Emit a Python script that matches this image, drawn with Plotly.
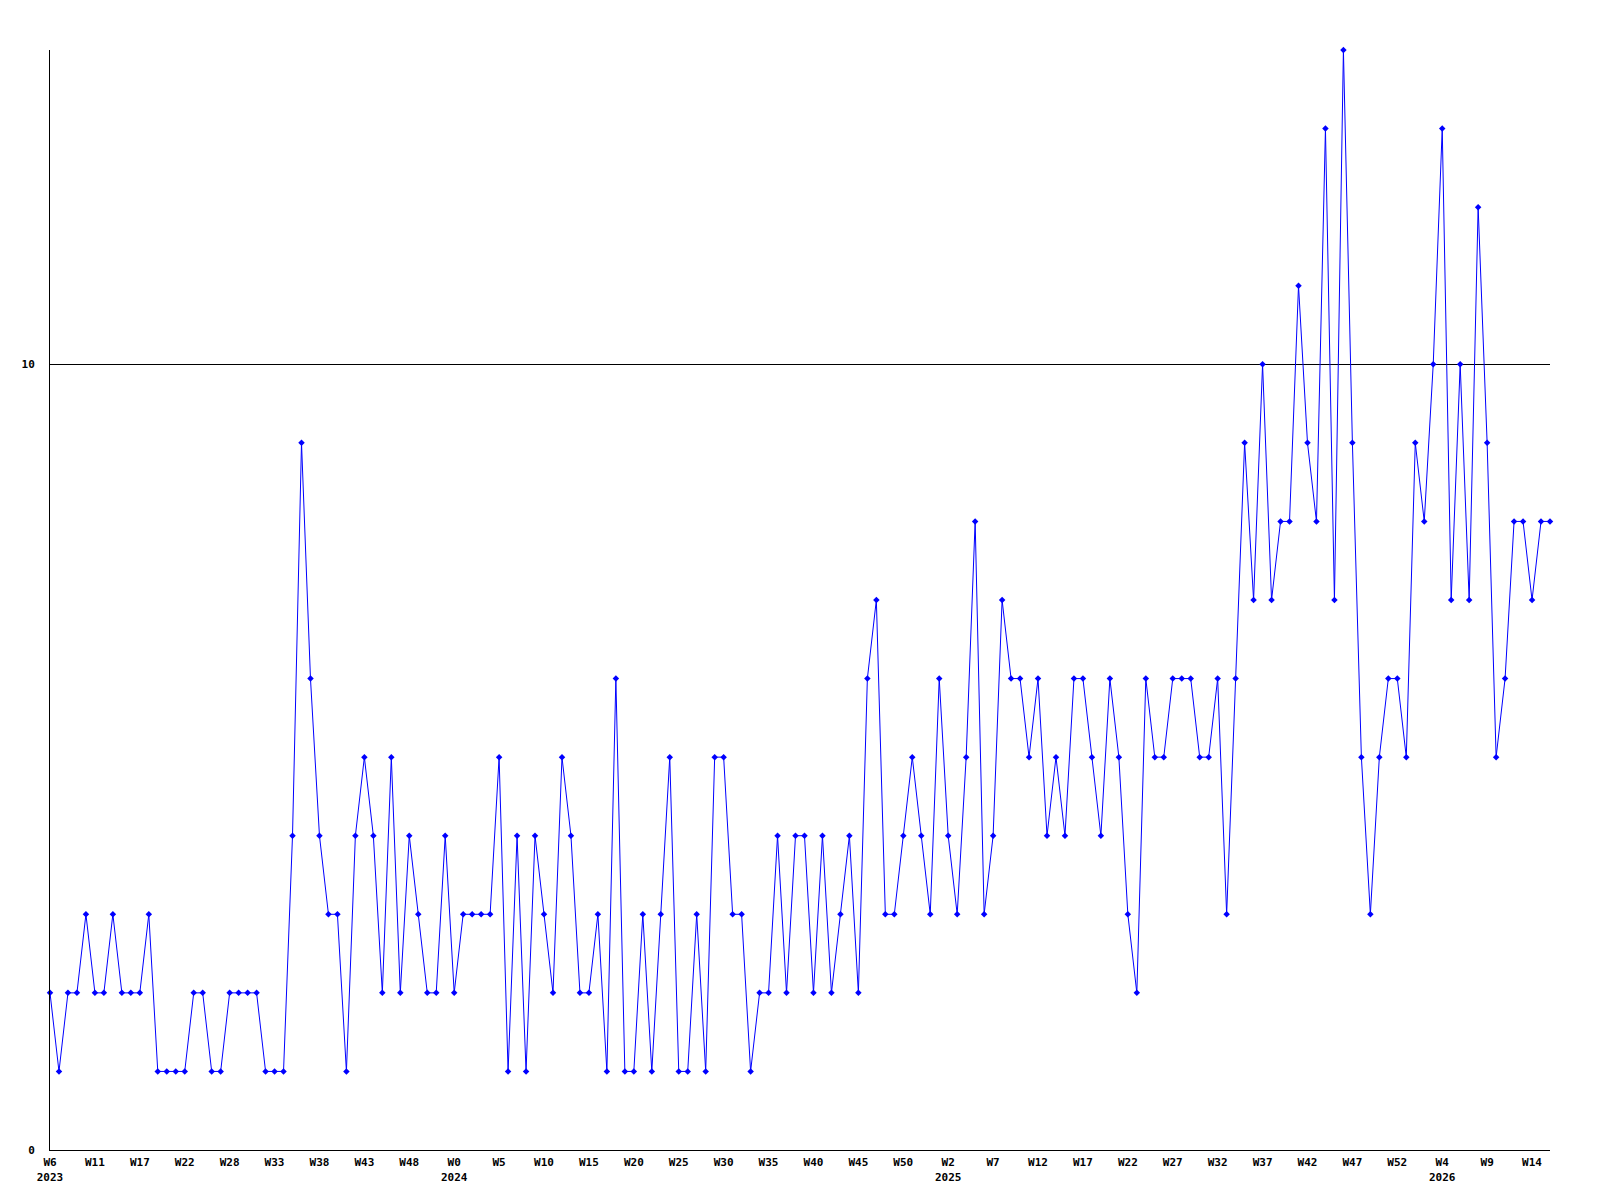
import plotly.graph_objects as go

# weekly counts, 2023 W6 .. 2026 W16 (one value per week)
values = [
    2, 1, 2, 2, 3, 2, 2, 3, 2, 2, 2, 3, 1, 1, 1, 1, 2, 2, 1, 1,
    2, 2, 2, 2, 1, 1, 1, 4, 9, 6, 4, 3, 3, 1, 4, 5, 4, 2, 5, 2,
    4, 3, 2, 2, 4, 2, 3, 3, 3, 3, 5, 1, 4, 1, 4, 3, 2, 5, 4, 2,
    2, 3, 1, 6, 1, 1, 3, 1, 3, 5, 1, 1, 3, 1, 5, 5, 3, 3, 1, 2,
    2, 4, 2, 4, 4, 2, 4, 2, 3, 4, 2, 6, 7, 3, 3, 4, 5, 4, 3, 6,
    4, 3, 5, 8, 3, 4, 7, 6, 6, 5, 6, 4, 5, 4, 6, 6, 5, 4, 6, 5,
    3, 2, 6, 5, 5, 6, 6, 6, 5, 5, 6, 3, 6, 9, 7, 10, 7, 8, 8, 11,
    9, 8, 13, 7, 14, 9, 5, 3, 5, 6, 6, 5, 9, 8, 10, 13, 7, 10, 7, 12,
    9, 5, 6, 8, 8, 7, 8, 8,
]
weeks = list(range(len(values)))

# x-axis tick labels (every 5th week) and the year shown under the first tick of each year
tick_weeks = ["W6", "W11", "W17", "W22", "W28", "W33", "W38", "W43", "W48",
              "W0", "W5", "W10", "W15", "W20", "W25", "W30", "W35", "W40", "W45", "W50",
              "W2", "W7", "W12", "W17", "W22", "W27", "W32", "W37", "W42", "W47", "W52",
              "W4", "W9", "W14"]
tick_years = {0: "2023", 9: "2024", 20: "2025", 31: "2026"}
y_ticks = [0, 10]

tickvals = [i * 5 for i in range(len(tick_weeks))]
ticktext = [w + ("<br>" + tick_years[i] if i in tick_years else "")
            for i, w in enumerate(tick_weeks)]

font = dict(family="DejaVu Sans Mono", size=11, color="black", weight="bold")

fig = go.Figure()
fig.add_trace(go.Scatter(
    x=weeks, y=values, mode="lines+markers",
    line=dict(color="#0000ff", width=1),
    marker=dict(symbol="diamond", size=5, color="#0000ff"),
    cliponaxis=False, showlegend=False,
))

fig.update_layout(
    width=1600, height=1200,
    margin=dict(l=50, r=50, t=50, b=50),
    paper_bgcolor="white", plot_bgcolor="white",
    font=font,
    xaxis=dict(range=[0, len(values) - 1], tickvals=tickvals, ticktext=ticktext,
               showline=True, linecolor="black", linewidth=1, showgrid=False,
               zeroline=False, ticks="", tickfont=font, ticklabelstandoff=2),
    yaxis=dict(range=[0, 14], tickvals=y_ticks, ticktext=[str(v) for v in y_ticks],
               showline=True, linecolor="black", linewidth=1, showgrid=True,
               gridcolor="black", gridwidth=1, zeroline=False, ticks="",
               tickfont=font, ticklabelstandoff=12),
)

fig.write_html("out.html", config={"displayModeBar": False},
               post_script="document.body.style.margin='0';")
